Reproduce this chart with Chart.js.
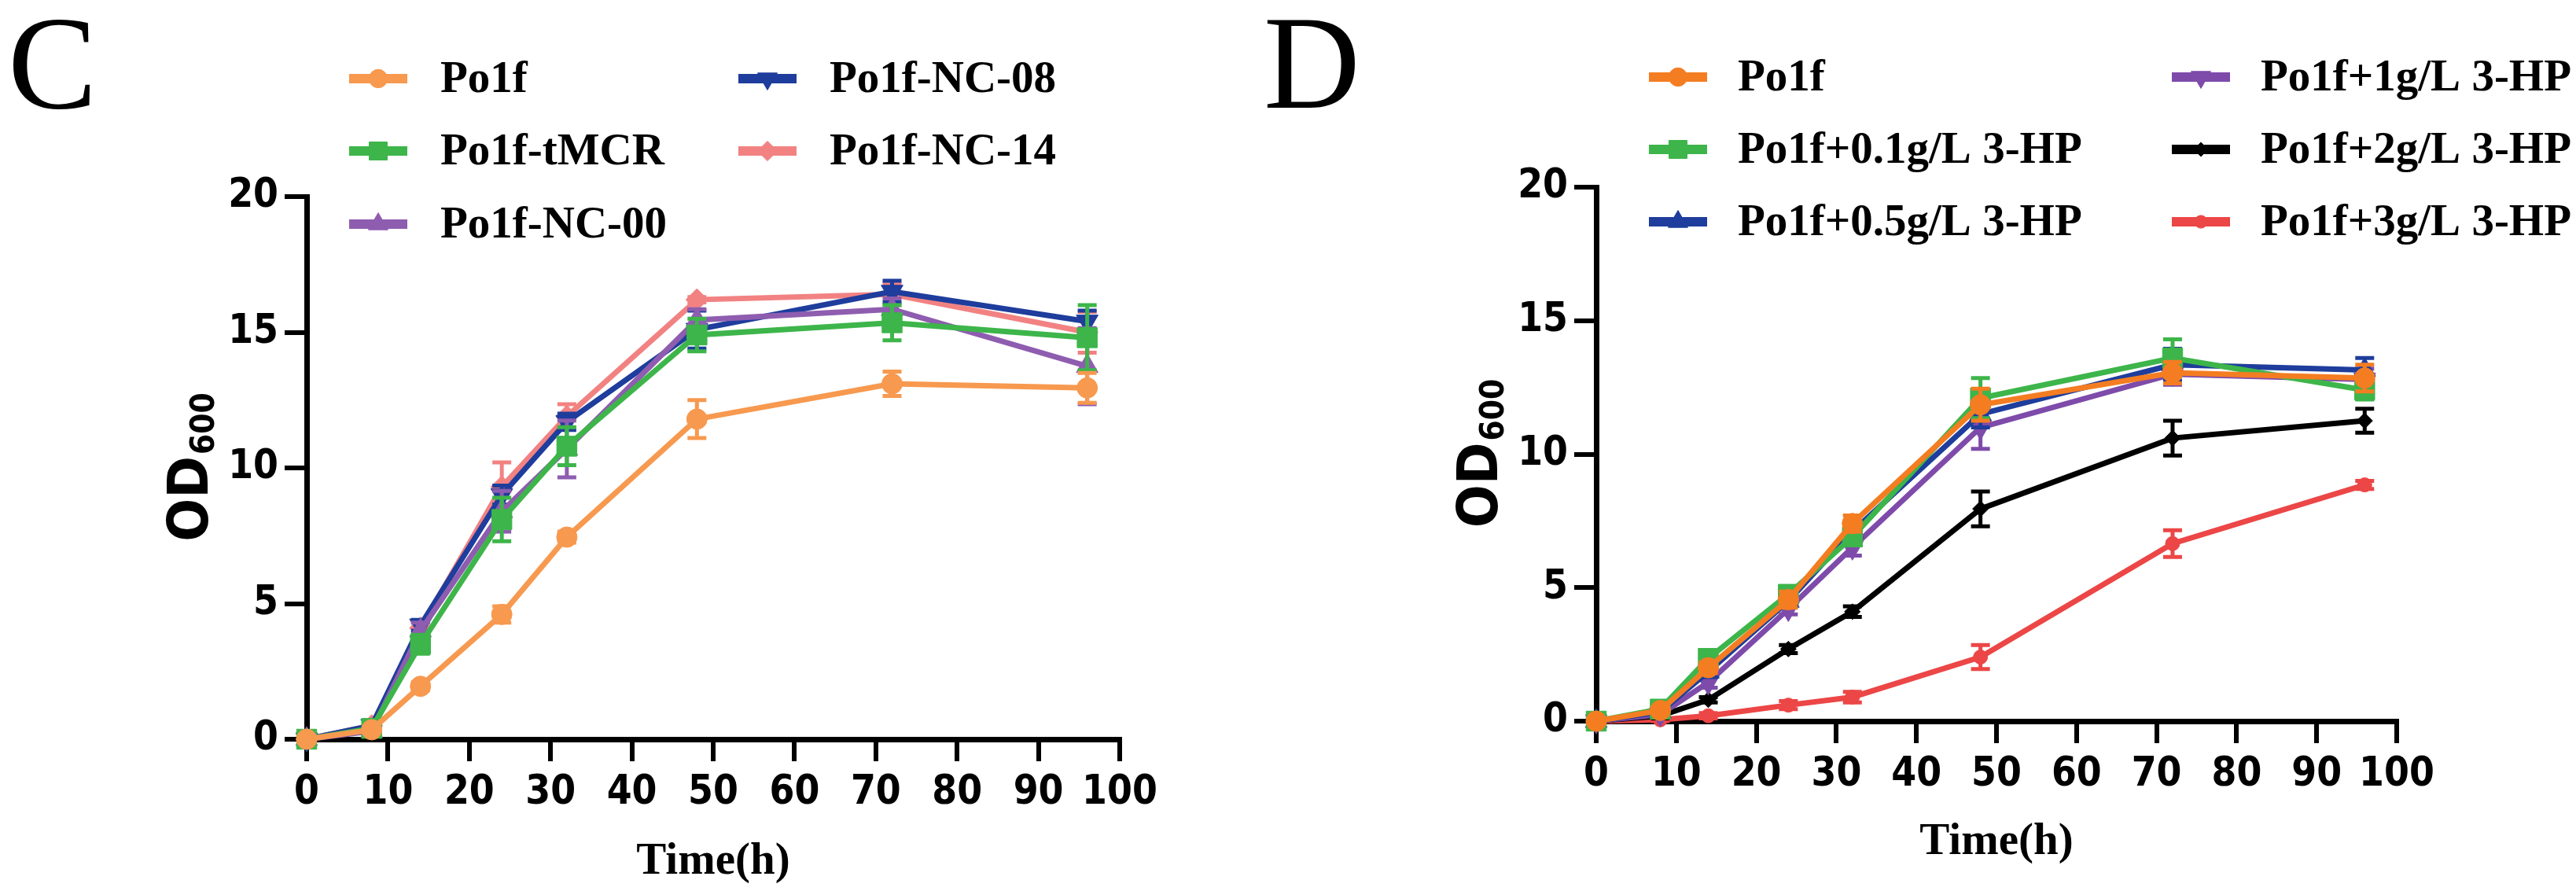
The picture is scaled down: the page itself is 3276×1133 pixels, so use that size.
<!DOCTYPE html>
<html>
<head>
<meta charset="UTF-8">
<title>OD600 growth curves</title>
<script src="https://cdn.jsdelivr.net/npm/chart.js"></script>
<style>
    body {
        margin: 0;
        background: #fff;
    }
    #wrap {
        position: relative;
        width: 3276px;
        height: 1133px;
    }
    #chartC {
        position: absolute;
        left: 0;
        top: 0;
    }
    #chartD {
        position: absolute;
        left: 1560px;
        top: 0;
    }
</style>
</head>
<body>
<div id="wrap">
    <canvas id="chartC" width="1560" height="1133"></canvas>
    <canvas id="chartD" width="1716" height="1133"></canvas>
</div>

<script>
    // sampling times (h)
    const hours = [0, 8, 14, 24, 32, 48, 72, 96];
    const xTicks = [0, 10, 20, 30, 40, 50, 60, 70, 80, 90, 100];
    const yTicks = [0, 5, 10, 15, 20];

    // panel C: strains
    const cLabels = ['Po1f', 'Po1f-tMCR', 'Po1f-NC-00', 'Po1f-NC-08', 'Po1f-NC-14'];
    const cPo1f = [0, 0.35, 1.95, 4.6, 7.45, 11.8, 13.1, 12.95];
    const cPo1fErr = [0, 0.1, 0.15, 0.3, 0.2, 0.7, 0.45, 0.55];
    const cTMCR = [0, 0.4, 3.5, 8.1, 10.8, 14.9, 15.35, 14.8];
    const cTMCRErr = [0, 0.1, 0.35, 0.8, 0.7, 0.6, 0.65, 1.2];
    const cNC00 = [0, 0.3, 4.0, 8.4, 10.7, 15.45, 15.85, 13.75];
    const cNC00Err = [0, 0.1, 0.3, 0.75, 1.05, 0.4, 0.4, 1.4];
    const cNC08 = [0, 0.5, 4.2, 9.0, 11.7, 15.1, 16.5, 15.4];
    const cNC08Err = [0, 0.1, 0.2, 0.35, 0.3, 0.7, 0.4, 0.4];
    const cNC14 = [0, 0.5, 4.1, 9.3, 11.9, 16.2, 16.4, 15.0];
    const cNC14Err = [0, 0.1, 0.2, 0.9, 0.45, 0.1, 0.4, 0.75];

    // panel D: Po1f with added 3-HP
    const dLabels = ['Po1f', 'Po1f+0.1g/L 3-HP', 'Po1f+0.5g/L 3-HP', 'Po1f+1g/L 3-HP', 'Po1f+2g/L 3-HP', 'Po1f+3g/L 3-HP'];
    const dPo1f = [0, 0.4, 2.0, 4.55, 7.4, 11.85, 13.05, 12.85];
    const dPo1fErr = [0, 0.1, 0.2, 0.3, 0.3, 0.6, 0.4, 0.5];
    const d01 = [0, 0.45, 2.35, 4.75, 6.9, 12.1, 13.6, 12.4];
    const d01Err = [0, 0.1, 0.2, 0.2, 0.3, 0.75, 0.7, 0.35];
    const d05 = [0, 0.35, 1.85, 4.5, 7.1, 11.5, 13.35, 13.15];
    const d05Err = [0, 0.1, 0.2, 0.2, 0.3, 0.5, 0.6, 0.45];
    const d1 = [0, 0.25, 1.45, 4.2, 6.5, 11.0, 13.0, 12.8];
    const d1Err = [0, 0.1, 0.2, 0.2, 0.3, 0.8, 0.4, 0.4];
    const d2 = [0, 0.2, 0.8, 2.7, 4.1, 7.95, 10.6, 11.25];
    const d2Err = [0, 0.1, 0.1, 0.15, 0.2, 0.65, 0.65, 0.45];
    const d3 = [0, 0.05, 0.2, 0.6, 0.9, 2.4, 6.65, 8.85];
    const d3Err = [0, 0.05, 0.1, 0.15, 0.2, 0.45, 0.5, 0.15];

    const NARROW = "'Liberation Sans Narrow', 'Arial Narrow', 'DejaVu Sans Condensed', 'Liberation Sans', sans-serif";
    const SERIF = "'Liberation Serif', 'Times New Roman', serif";

    function series(label, values, errors, color, style, radius, rotation) {
        return {
            label: label,
            data: hours.map((h, i) => ({x: h, y: values[i]})),
            errors: errors,
            borderColor: color,
            backgroundColor: color,
            borderWidth: 7,
            pointStyle: style,
            pointRadius: radius,
            pointRotation: rotation || 0,
            pointBorderWidth: 1,
            tension: 0,
            clip: false
        };
    }

    // vertical error bars with caps, drawn just under each dataset
    const errorBars = {
        id: 'errorBars',
        beforeDatasetDraw(chart, args) {
            const ds = chart.data.datasets[args.index];
            if (!ds.errors) return;
            const ctx = chart.ctx;
            const x = chart.scales.x, y = chart.scales.y;
            ctx.save();
            ctx.strokeStyle = ds.borderColor;
            ctx.lineWidth = 5;
            ds.data.forEach((p, i) => {
                const e = ds.errors[i];
                if (!e) return;
                const px = x.getPixelForValue(p.x);
                const top = y.getPixelForValue(p.y + e);
                const bot = y.getPixelForValue(p.y - e);
                ctx.beginPath();
                ctx.moveTo(px, top); ctx.lineTo(px, bot);
                ctx.moveTo(px - 12, top); ctx.lineTo(px + 12, top);
                ctx.moveTo(px - 12, bot); ctx.lineTo(px + 12, bot);
                ctx.stroke();
            });
            ctx.restore();
        }
    };

    // two-column legend laid out like the original figure
    const gridLegend = {
        id: 'gridLegend',
        afterDraw(chart, args, opts) {
            const ctx = chart.ctx;
            ctx.save();
            ctx.font = 'bold 57px ' + SERIF;
            ctx.textBaseline = 'middle';
            ctx.textAlign = 'left';
            opts.columns.forEach((col, c) => {
                col.forEach((dsIndex, r) => {
                    const ds = chart.data.datasets[dsIndex];
                    const cx = opts.colX[c], cy = opts.rowY[r];
                    ctx.strokeStyle = ds.borderColor;
                    ctx.fillStyle = ds.backgroundColor;
                    ctx.lineWidth = 12;
                    ctx.beginPath();
                    ctx.moveTo(cx - 37, cy);
                    ctx.lineTo(cx + 37, cy);
                    ctx.stroke();
                    ctx.lineWidth = 1;
                    Chart.helpers.drawPoint(ctx, {
                        pointStyle: ds.pointStyle,
                        radius: ds.pointRadius * 0.9,
                        rotation: ds.pointRotation,
                        borderWidth: 1
                    }, cx, cy);
                    ctx.fillStyle = '#000';
                    ctx.fillText(ds.label, cx + opts.textDx, cy + 2);
                });
            });
            ctx.restore();
        }
    };

    // panel letter and the OD600 axis title with subscript
    const panelText = {
        id: 'panelText',
        afterDraw(chart, args, opts) {
            const ctx = chart.ctx;
            const area = chart.chartArea;
            ctx.save();
            ctx.fillStyle = '#000';
            ctx.font = '170px ' + SERIF;
            ctx.textBaseline = 'alphabetic';
            ctx.textAlign = 'left';
            ctx.fillText(opts.letter, opts.letterX, 137);

            const big = 'bold 72px ' + NARROW, small = 'bold 42px ' + NARROW;
            ctx.font = big;
            const w1 = ctx.measureText('OD').width;
            ctx.font = small;
            const w2 = ctx.measureText('600').width;
            ctx.translate(area.left - opts.titleOffset, (area.top + area.bottom) / 2);
            ctx.rotate(-Math.PI / 2);
            const start = -(w1 + w2) / 2;
            ctx.font = big;
            ctx.fillText('OD', start, 26);
            ctx.font = small;
            ctx.fillText('600', start + w1 + 2, 34);
            ctx.restore();
        }
    };

    function options(pad, xHeight, titlePad, legend, text) {
        return {
            responsive: false,
            animation: false,
            layout: {padding: pad},
            scales: {
                x: {
                    type: 'linear',
                    min: 0,
                    max: 100,
                    afterBuildTicks: s => { s.ticks = xTicks.map(v => ({value: v})); },
                    afterFit: s => { s.height = xHeight; },
                    border: {display: true, color: '#000', width: 7},
                    grid: {drawOnChartArea: false, color: '#000', lineWidth: 6, tickLength: 28},
                    ticks: {
                        color: '#000',
                        padding: 10,
                        maxRotation: 0,
                        autoSkip: false,
                        font: {family: NARROW, size: 51, weight: 'bold'}
                    },
                    title: {
                        display: true,
                        text: 'Time(h)',
                        color: '#000',
                        padding: {top: 0, bottom: titlePad},
                        font: {family: SERIF, size: 57, weight: 'bold'}
                    }
                },
                y: {
                    type: 'linear',
                    min: 0,
                    max: 20,
                    afterBuildTicks: s => { s.ticks = yTicks.map(v => ({value: v})); },
                    afterFit: s => { s.width = 390; },
                    border: {display: true, color: '#000', width: 7},
                    grid: {drawOnChartArea: false, color: '#000', lineWidth: 6, tickLength: 28},
                    ticks: {
                        color: '#000',
                        padding: 8,
                        font: {family: NARROW, size: 51, weight: 'bold'}
                    }
                }
            },
            plugins: {
                legend: {display: false},
                tooltip: {enabled: false},
                gridLegend: legend,
                panelText: text
            }
        };
    }

    new Chart(document.getElementById('chartC'), {
        type: 'line',
        data: {
            datasets: [
                series(cLabels[0], cPo1f, cPo1fErr, '#F7994F', 'circle', 13),
                series(cLabels[1], cTMCR, cTMCRErr, '#3DB54A', 'rect', 18),
                series(cLabels[2], cNC00, cNC00Err, '#8E5DB0', 'triangle', 16),
                series(cLabels[3], cNC08, cNC08Err, '#1E3D9C', 'triangle', 16, 180),
                series(cLabels[4], cNC14, cNC14Err, '#F28282', 'rectRot', 14)
            ]
        },
        options: options(
            {left: 0, top: 250, right: 136, bottom: 0}, 193, 3,
            {columns: [[0, 1, 2], [3, 4]], colX: [481, 976], rowY: [100, 192, 285], textDx: 79},
            {letter: 'C', letterX: 10, titleOffset: 152}
        ),
        plugins: [errorBars, gridLegend, panelText]
    });

    new Chart(document.getElementById('chartD'), {
        type: 'line',
        data: {
            datasets: [
                series(dLabels[0], dPo1f, dPo1fErr, '#F47D22', 'circle', 13),
                series(dLabels[1], d01, d01Err, '#3DB54A', 'rect', 18),
                series(dLabels[2], d05, d05Err, '#1E3D9C', 'triangle', 16),
                series(dLabels[3], d1, d1Err, '#7E4BAA', 'triangle', 16, 180),
                series(dLabels[4], d2, d2Err, '#000000', 'rectRot', 10),
                series(dLabels[5], d3, d3Err, '#EC4646', 'circle', 9)
            ]
        },
        options: options(
            {left: 80, top: 238, right: 228, bottom: 0}, 216, 28,
            {columns: [[0, 1, 2], [3, 4, 5]], colX: [574, 1239], rowY: [98, 190, 282], textDx: 76},
            {letter: 'D', letterX: 47, titleOffset: 152}
        ),
        plugins: [errorBars, gridLegend, panelText]
    });
</script>
</body>
</html>
